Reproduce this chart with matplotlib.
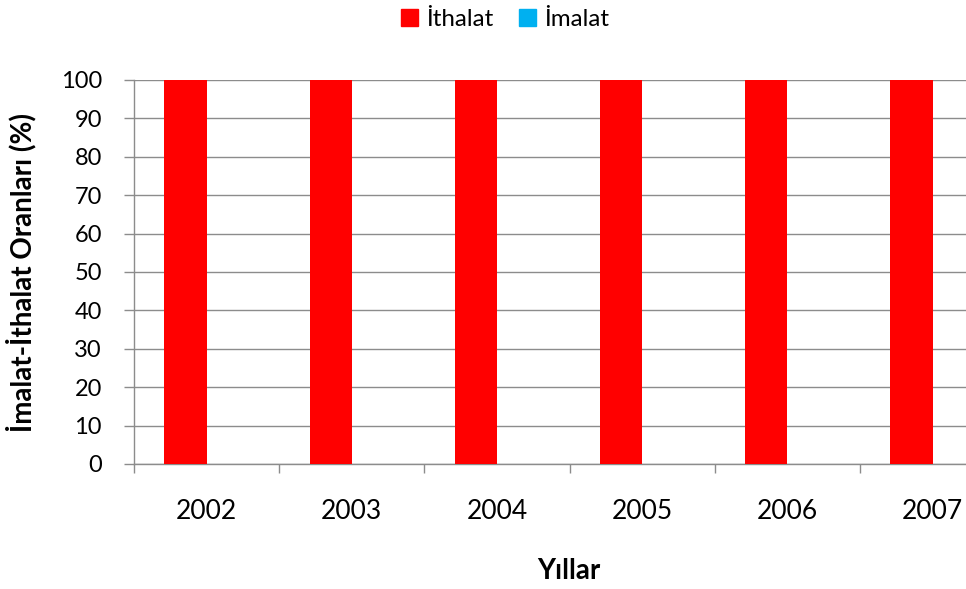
import matplotlib
matplotlib.use('Agg')
from matplotlib import pyplot as plt
from matplotlib.patches import Patch
import numpy as np

years = ['2002', '2003', '2004', '2005', '2006', '2007']
ithalat = [100, 100, 100, 100, 100, 100]
imalat = [0, 0, 0, 0, 0, 0]

plt.rcParams['font.family'] = ['Lato', 'DejaVu Sans']

fig = plt.figure(figsize=(9.66, 5.89), dpi=100)
ax = fig.add_axes([134 / 966, 1 - 464 / 589, 1 - 134 / 966, (464 - 80) / 589])

x = np.arange(len(years))
w = 0.29
ax.bar(x - w / 2, ithalat, w, color='#ff0000', zorder=3)
ax.bar(x + w / 2, imalat, w, color='#00b0f0', zorder=3)

ax.set_xlim(-0.5, 5.23)
ax.set_ylim(0, 100)
ax.set_yticks(range(0, 101, 10))
ax.yaxis.grid(True, color='#8c8c8c', linewidth=1, zorder=0)

ax.set_xticks(np.arange(-0.5, 5.5, 1))
ax.set_xticklabels([])
ax.set_xticks(x, minor=True)
ax.set_xticklabels(years, minor=True)
ax.tick_params(axis='x', which='major', length=6.5, color='#8c8c8c', width=1)
ax.tick_params(axis='x', which='minor', length=0, pad=25, labelsize=19)
ax.tick_params(axis='y', length=7.2, color='#8c8c8c', width=1, labelsize=17, pad=16)

for s in ['top', 'right']:
    ax.spines[s].set_visible(False)
for s in ['left', 'bottom']:
    ax.spines[s].set_color('#8c8c8c')
    ax.spines[s].set_linewidth(1)

ax.set_ylabel('İmalat-İthalat Oranları (%)', fontsize=20, fontweight='bold')
ax.yaxis.set_label_coords((21 - 134) / 832, (464 - 273) / 384)
ax.set_xlabel('Yıllar', fontsize=20, fontweight='bold')
ax.xaxis.set_label_coords((569 - 134) / 832, (464 - 571) / 384)
ax.xaxis.label.set_va('center')
ax.yaxis.label.set_va('center')

handles = [Patch(color='#ff0000'), Patch(color='#00b0f0')]
fig.legend(handles, ['İthalat', 'İmalat'], loc='center', bbox_to_anchor=(505 / 966, 1 - 19 / 589),
           ncol=2, frameon=False, fontsize=17.4, handlelength=0.7, handleheight=0.7,
           handletextpad=0.33, columnspacing=1.08, borderpad=0, borderaxespad=0)

fig.savefig('out.png', dpi=100)
